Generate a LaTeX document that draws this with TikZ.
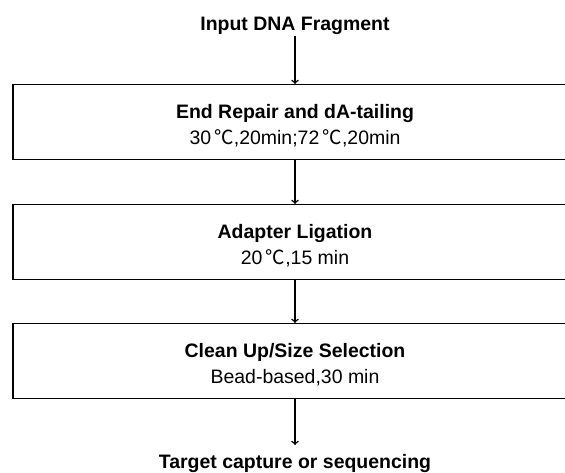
\documentclass[tikz,border=0pt]{standalone}
\usepackage{fontspec}
\setmainfont{Liberation Sans}
\newfontfamily\cjk{Noto Sans CJK SC}
\usetikzlibrary{arrows}
\newcommand{\degc}{{\cjk\,℃}}
\newcommand{\toppad}{\rule{0pt}{16pt}}

\begin{document}
\begin{tikzpicture}[x=0.75pt, y=-0.75pt, thick,
    stepbox/.style={draw, line width=1.1pt, minimum width=423pt, minimum height=56pt,
      align=center, font=\fontsize{14.6}{19.5}\selectfont},
    endtext/.style={anchor=base, font=\bfseries\fontsize{14.6}{19.5}\selectfont},
    flow/.style={->, >=to, line width=1.1pt}]
  \useasboundingbox (0,0) rectangle (565,473);
  \clip (0,0) rectangle (565,473);
  \node[endtext, inner sep=0pt](in) at (295,31) {Input DNA Fragment};
  \node[stepbox](a) at (295,122) {\toppad\textbf{End Repair and dA-tailing}\\30\degc,20min;72\degc,20min};
  \node[stepbox](b) at (295,242) {\toppad\textbf{Adapter Ligation}\\20\degc,15 min};
  \node[stepbox](c) at (295,361) {\toppad\textbf{Clean Up/Size Selection}\\Bead-based,30 min};
  \node[endtext, inner sep=7pt](out) at (295,469) {Target capture or sequencing};
  \path
  (in) edge[flow] (a)
  (a) edge[flow] (b)
  (b) edge[flow] (c)
  (c) edge[flow] (out);
\end{tikzpicture}
\end{document}
